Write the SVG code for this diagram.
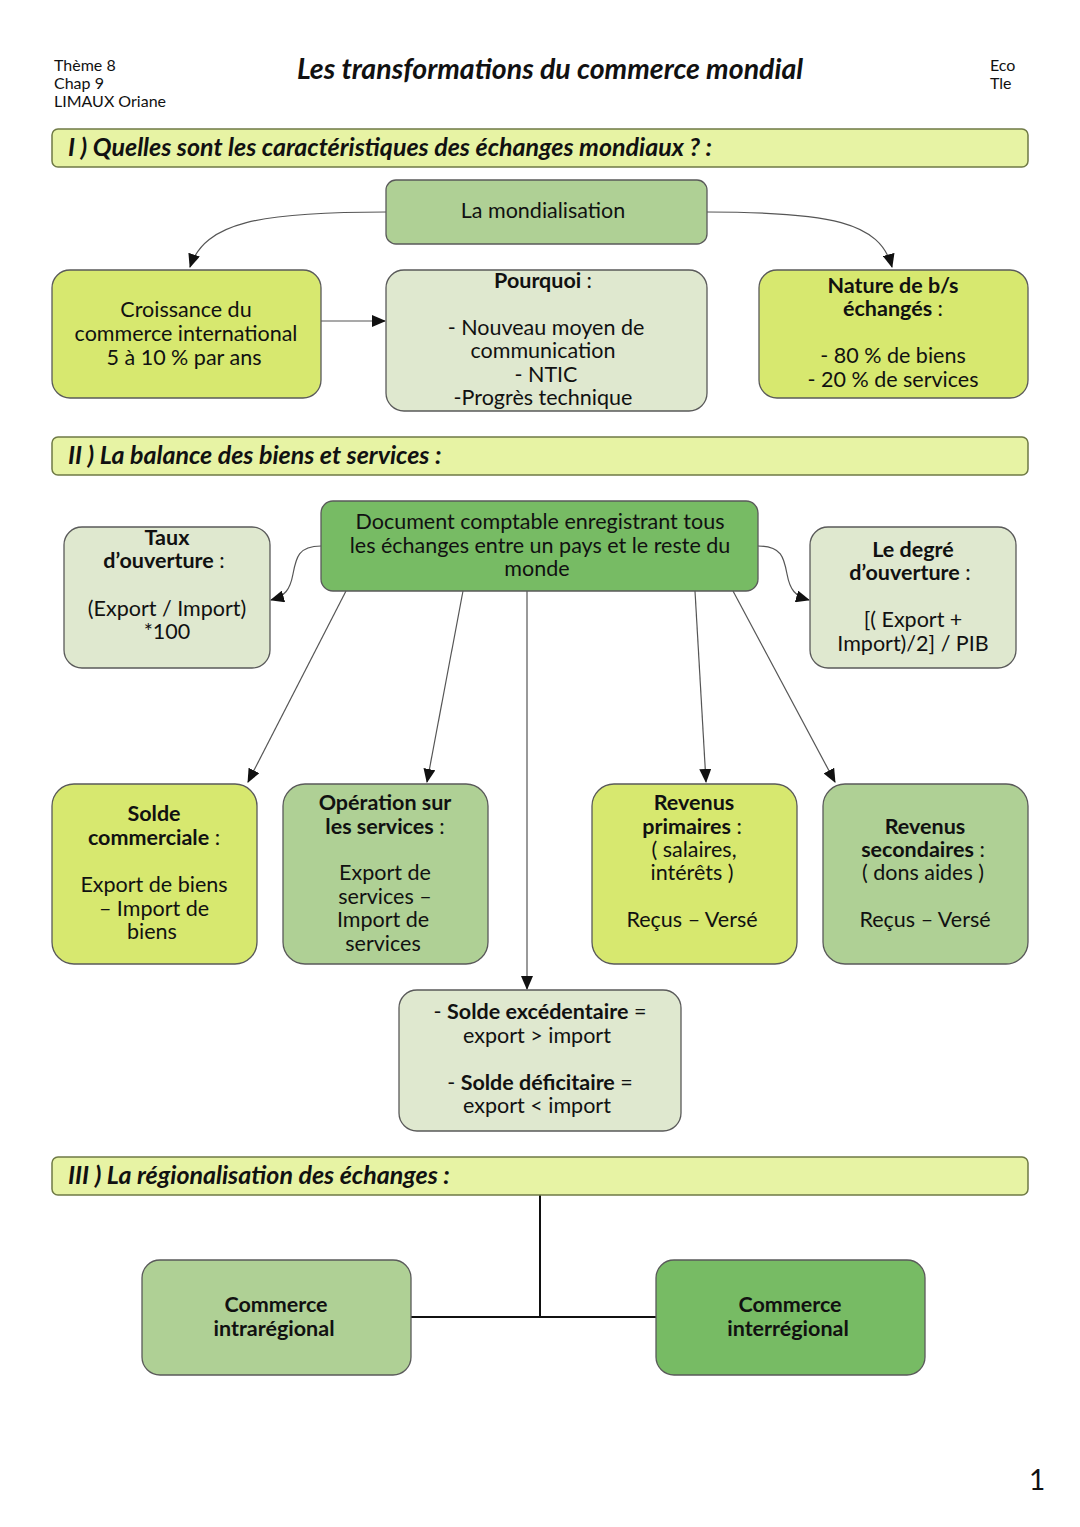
<svg xmlns="http://www.w3.org/2000/svg" width="1080" height="1527" viewBox="0 0 1080 1527">
<defs>
<style>
text{font-family:Lato,"Open Sans","Liberation Sans",sans-serif;fill:#111;}
.hdr{font-size:16px;}
.t{font-size:21.5px;text-anchor:middle;}
.b{font-weight:bold;}
.sec{font-size:25px;font-weight:bold;font-style:italic;}
.bar{fill:#e7f3a4;stroke:#6f7a45;stroke-width:1.5;}
.box{stroke:#5a5a5a;stroke-width:1.3;}
.yg{fill:#d7e86f;}
.lg{fill:#afd095;}
.pg{fill:#dfe8cf;}
.dg{fill:#77bb64;}
.c{fill:none;stroke:#555;stroke-width:1.2;}
.k{fill:none;stroke:#111;stroke-width:2;}
</style>
<marker id="ah" viewBox="0 0 14 12" refX="13" refY="6" markerWidth="14" markerHeight="12" markerUnits="userSpaceOnUse" orient="auto">
<path d="M0,0 L14,6 L0,12 z" fill="#111"/>
</marker>
</defs>
<rect width="1080" height="1527" fill="#ffffff"/>

<g id="header">
<text class="hdr" x="54" y="71">Thème 8</text>
<text class="hdr" x="54" y="89">Chap 9</text>
<text class="hdr" x="54" y="107">LIMAUX Oriane</text>
<text x="550" y="79" style="font-size:28.5px;font-weight:bold;font-style:italic;text-anchor:middle">Les transformations du commerce mondial</text>
<text class="hdr" x="990" y="71">Eco</text>
<text class="hdr" x="990" y="89">Tle</text>
</g>

<g id="connectors">
<path class="c" d="M386,212 C260,212 205,222 190,267" marker-end="url(#ah)"/>
<path class="c" d="M707,212 C830,212 880,222 892,267" marker-end="url(#ah)"/>
<path class="c" d="M321,321 L385,321" marker-end="url(#ah)"/>
<path class="c" d="M321,546 C298,546 296,558 293,574 C290,590 285,596 271,600" marker-end="url(#ah)"/>
<path class="c" d="M758,546 C782,546 784,558 787,574 C790,590 795,596 809,600" marker-end="url(#ah)"/>
<path class="c" d="M346,591 L248,782" marker-end="url(#ah)"/>
<path class="c" d="M463,591 L427,782" marker-end="url(#ah)"/>
<path class="c" d="M527,591 L527,989" marker-end="url(#ah)"/>
<path class="c" d="M695,591 L706,782" marker-end="url(#ah)"/>
<path class="c" d="M733,591 L835,782" marker-end="url(#ah)"/>
<path class="k" d="M540,1195 L540,1317 M411,1317 L656,1317"/>
</g>

<g id="section1">
<rect class="bar" x="52" y="129" width="976" height="38" rx="6"/>
<text class="sec" x="68" y="156">I ) Quelles sont les caractéristiques des échanges mondiaux ? :</text>
</g>

<g id="mondialisation">
<rect class="box lg" x="386" y="180" width="321" height="64" rx="10"/>
<text class="t" x="543" y="218">La mondialisation</text>
</g>

<g id="croissance">
<rect class="box yg" x="52" y="270" width="269" height="128" rx="18"/>
<text class="t" x="186" y="317">Croissance du</text>
<text class="t" x="186" y="341">commerce international</text>
<text class="t" x="184" y="365">5 à 10 % par ans</text>
</g>

<g id="pourquoi">
<rect class="box pg" x="386" y="270" width="321" height="141" rx="18"/>
<text class="t b" x="543" y="288">Pourquoi <tspan font-weight="normal">:</tspan></text>
<text class="t" x="546" y="335">- Nouveau moyen de</text>
<text class="t" x="543" y="358">communication</text>
<text class="t" x="546" y="382">- NTIC</text>
<text class="t" x="543" y="405">-Progrès technique</text>
</g>

<g id="nature">
<rect class="box yg" x="759" y="270" width="269" height="128" rx="18"/>
<text class="t b" x="893" y="293">Nature de b/s</text>
<text class="t" x="893" y="316"><tspan font-weight="bold">échangés</tspan> :</text>
<text class="t" x="893" y="363">- 80 % de biens</text>
<text class="t" x="893" y="387">- 20 % de services</text>
</g>

<g id="section2">
<rect class="bar" x="52" y="437" width="976" height="38" rx="6"/>
<text class="sec" x="68" y="464">II ) La balance des biens et services :</text>
</g>

<g id="document">
<rect class="box dg" x="321" y="501" width="437" height="90" rx="12"/>
<text class="t" x="540" y="529">Document comptable enregistrant tous</text>
<text class="t" x="540" y="553">les échanges entre un pays et le reste du</text>
<text class="t" x="537" y="576">monde</text>
</g>

<g id="taux">
<rect class="box pg" x="64" y="527" width="206" height="141" rx="18"/>
<text class="t b" x="167" y="545">Taux</text>
<text class="t" x="164" y="568"><tspan font-weight="bold">d’ouverture</tspan> :</text>
<text class="t" x="167" y="616">(Export / Import)</text>
<text class="t" x="167" y="639">*100</text>
</g>

<g id="degre">
<rect class="box pg" x="810" y="527" width="206" height="141" rx="18"/>
<text class="t b" x="913" y="557">Le degré</text>
<text class="t" x="910" y="580"><tspan font-weight="bold">d’ouverture</tspan> :</text>
<text class="t" x="913" y="627">[( Export +</text>
<text class="t" x="913" y="651">Import)/2] / PIB</text>
</g>

<g id="solde-commerciale">
<rect class="box yg" x="52" y="784" width="205" height="180" rx="22"/>
<text class="t b" x="154" y="821">Solde</text>
<text class="t" x="154" y="845"><tspan font-weight="bold">commerciale</tspan> :</text>
<text class="t" x="154" y="892">Export de biens</text>
<text class="t" x="154" y="916">– Import de</text>
<text class="t" x="152" y="939">biens</text>
</g>

<g id="operation-services">
<rect class="box lg" x="283" y="784" width="205" height="180" rx="22"/>
<text class="t b" x="385" y="810">Opération sur</text>
<text class="t" x="385" y="834"><tspan font-weight="bold">les services</tspan> :</text>
<text class="t" x="385" y="880">Export de</text>
<text class="t" x="385" y="904">services –</text>
<text class="t" x="383" y="927">Import de</text>
<text class="t" x="383" y="951">services</text>
</g>

<g id="revenus-primaires">
<rect class="box yg" x="592" y="784" width="205" height="180" rx="22"/>
<text class="t b" x="694" y="810">Revenus</text>
<text class="t" x="692" y="834"><tspan font-weight="bold">primaires</tspan> :</text>
<text class="t" x="694" y="857">( salaires,</text>
<text class="t" x="692" y="880">intérêts )</text>
<text class="t" x="692" y="927">Reçus – Versé</text>
</g>

<g id="revenus-secondaires">
<rect class="box lg" x="823" y="784" width="205" height="180" rx="22"/>
<text class="t b" x="925" y="834">Revenus</text>
<text class="t" x="923" y="857"><tspan font-weight="bold">secondaires</tspan> :</text>
<text class="t" x="923" y="880">( dons aides )</text>
<text class="t" x="925" y="927">Reçus – Versé</text>
</g>

<g id="solde-box">
<rect class="box pg" x="399" y="990" width="282" height="141" rx="18"/>
<text class="t" x="540" y="1019">- <tspan font-weight="bold">Solde excédentaire</tspan> =</text>
<text class="t" x="537" y="1043">export &gt; import</text>
<text class="t" x="540" y="1090">- <tspan font-weight="bold">Solde déficitaire</tspan> =</text>
<text class="t" x="537" y="1113">export &lt; import</text>
</g>

<g id="section3">
<rect class="bar" x="52" y="1157" width="976" height="38" rx="6"/>
<text class="sec" x="68" y="1184">III ) La régionalisation des échanges :</text>
</g>

<g id="intraregional">
<rect class="box lg" x="142" y="1260" width="269" height="115" rx="18"/>
<text class="t b" x="276" y="1312">Commerce</text>
<text class="t b" x="274" y="1336">intrarégional</text>
</g>

<g id="interregional">
<rect class="box dg" x="656" y="1260" width="269" height="115" rx="18"/>
<text class="t b" x="790" y="1312">Commerce</text>
<text class="t b" x="788" y="1336">interrégional</text>
</g>

<text x="1037" y="1490" style="font-size:28px;text-anchor:middle">1</text>
</svg>
